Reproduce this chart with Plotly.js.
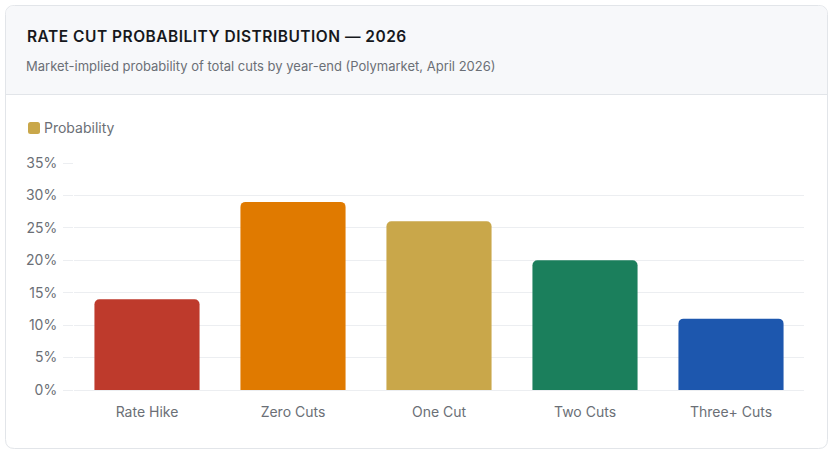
<!DOCTYPE html>
<html>
<head>
<meta charset="utf-8">
<script src="https://cdn.plot.ly/plotly-3.0.1.min.js"></script>
<style>
html,body{margin:0;padding:0;background:#ffffff;}
#chart{width:832px;height:452px;}
</style>
</head>
<body>
<div id="chart"></div>
<script>
const categories = ["Rate Hike", "Zero Cuts", "One Cut", "Two Cuts", "Three+ Cuts"];
const probabilities = [14, 29, 26, 20, 11];
const barColors = ["#be3a2c", "#e07a00", "#c9a74a", "#1b7f5c", "#1d57ae"];
const yTickValues = [0, 5, 10, 15, 20, 25, 30, 35];
const yTickLabels = ["0%", "5%", "10%", "15%", "20%", "25%", "30%", "35%"];
const seriesName = "Probability";
const titleText = "RATE CUT PROBABILITY DISTRIBUTION — 2026";
const subtitleText = "Market-implied probability of total cuts by year-end (Polymarket, April 2026)";

const FONT = "Inter, 'Noto Sans', sans-serif";

const trace = {
  type: "bar",
  x: categories,
  y: probabilities,
  marker: {color: barColors, cornerradius: 5, line: {width: 0}},
  width: 0.72,
  showlegend: false,
  hoverinfo: "x+y"
};

const layout = {
  width: 832,
  height: 452,
  margin: {l: 74, r: 28, t: 163, b: 62},
  paper_bgcolor: "#ffffff",
  plot_bgcolor: "rgba(0,0,0,0)",
  font: {family: FONT, color: "#6b6f76", size: 14},
  showlegend: false,
  xaxis: {
    type: "category",
    showgrid: false,
    zeroline: false,
    showline: false,
    ticks: "",
    tickfont: {family: FONT, size: 14, color: "#6b6f76"},
    ticklabelstandoff: 12,
    fixedrange: true
  },
  yaxis: {
    range: [0, 35],
    tickvals: yTickValues,
    ticktext: yTickLabels,
    showgrid: true,
    gridcolor: "#eceef1",
    gridwidth: 1,
    zeroline: true,
    zerolinecolor: "#eceef1",
    zerolinewidth: 1,
    showline: false,
    ticks: "outside",
    ticklen: 10,
    tickcolor: "#eceef1",
    tickwidth: 1,
    tickfont: {family: FONT, size: 14, color: "#6b6f76"},
    ticklabelstandoff: 3,
    fixedrange: true
  }
};

function px(x){ return (x - 74) / (832 - 74 - 28); }
function py(y){ return (452 - 62 - y) / (452 - 163 - 62); }

function roundedRectPath(x0, y0, x1, y1, r, topOnly){
  const P = (x, y) => px(x) + "," + py(y);
  if (topOnly){
    return "M" + P(x0, y1) + " L" + P(x0, y0 + r) + " Q" + P(x0, y0) + " " + P(x0 + r, y0) +
      " L" + P(x1 - r, y0) + " Q" + P(x1, y0) + " " + P(x1, y0 + r) + " L" + P(x1, y1) + " Z";
  }
  return "M" + P(x0 + r, y0) + " L" + P(x1 - r, y0) + " Q" + P(x1, y0) + " " + P(x1, y0 + r) +
    " L" + P(x1, y1 - r) + " Q" + P(x1, y1) + " " + P(x1 - r, y1) +
    " L" + P(x0 + r, y1) + " Q" + P(x0, y1) + " " + P(x0, y1 - r) +
    " L" + P(x0, y0 + r) + " Q" + P(x0, y0) + " " + P(x0 + r, y0) + " Z";
}

layout.shapes = [
  {type: "path", xref: "paper", yref: "paper", layer: "below",
   path: roundedRectPath(5.5, 5.5, 827.5, 448.5, 9, false),
   fillcolor: "#ffffff", line: {color: "#e2e5e9", width: 1}},
  {type: "path", xref: "paper", yref: "paper", layer: "below",
   path: roundedRectPath(6, 6, 827, 94, 8.5, true),
   fillcolor: "#f7f8fa", line: {width: 0}},
  {type: "line", xref: "paper", yref: "paper", layer: "below",
   x0: px(6), x1: px(827), y0: py(94.5), y1: py(94.5),
   line: {color: "#e2e5e9", width: 1}},
  {type: "path", xref: "paper", yref: "paper", layer: "above",
   path: roundedRectPath(28, 122, 40, 134, 2.5, false),
   fillcolor: barColors[2], line: {width: 0}}
];

layout.annotations = [
  {xref: "paper", yref: "paper", x: px(25), y: py(37), xanchor: "left", yanchor: "middle",
   text: '<span style="letter-spacing:0.5px">' + titleText + '</span>', showarrow: false,
   font: {family: FONT, size: 15.5, color: "#16181d", weight: 600}},
  {xref: "paper", yref: "paper", x: px(24), y: py(65.5), xanchor: "left", yanchor: "middle",
   text: subtitleText, showarrow: false,
   font: {family: FONT, size: 13, color: "#6b6f76"}},
  {xref: "paper", yref: "paper", x: px(42), y: py(127.5), xanchor: "left", yanchor: "middle",
   text: seriesName, showarrow: false,
   font: {family: FONT, size: 14, color: "#6b6f76"}}
];

Plotly.newPlot("chart", [trace], layout, {displayModeBar: false, staticPlot: true});
</script>
</body>
</html>
